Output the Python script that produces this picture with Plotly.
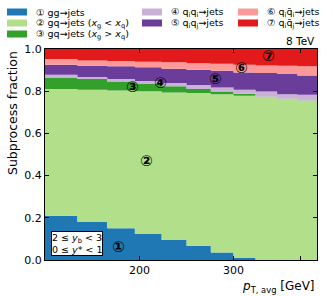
import numpy as np
import plotly.graph_objects as go

# ---------------- data ----------------
pt_edges = [133, 153, 174, 196, 220, 245, 272, 300, 330, 362, 395, 430]
frac_gg      = [0.210, 0.180, 0.150, 0.123, 0.095, 0.067, 0.035, 0.010, 0.000, 0.000, 0.000]
frac_gq_lt   = [0.600, 0.627, 0.653, 0.677, 0.699, 0.724, 0.751, 0.768, 0.772, 0.763, 0.755]
frac_gq_gt   = [0.052, 0.051, 0.043, 0.034, 0.029, 0.019, 0.013, 0.010, 0.002, 0.001, 0.001]
frac_qiqi    = [0.016, 0.009, 0.012, 0.014, 0.016, 0.019, 0.019, 0.019, 0.025, 0.022, 0.027]
frac_qiqj    = [0.047, 0.054, 0.060, 0.065, 0.067, 0.073, 0.079, 0.082, 0.087, 0.095, 0.092]
frac_qiqibar = [0.028, 0.025, 0.025, 0.027, 0.031, 0.031, 0.033, 0.036, 0.036, 0.040, 0.043]
frac_qiqjbar = [0.047, 0.054, 0.057, 0.060, 0.063, 0.067, 0.070, 0.075, 0.078, 0.079, 0.082]

series_values = [frac_gg, frac_gq_lt, frac_gq_gt, frac_qiqi, frac_qiqj, frac_qiqibar, frac_qiqjbar]
series_labels = [
    "① gg→jets",
    "② gq→jets (<i>x</i><sub>g</sub> &lt; <i>x</i><sub>q</sub>)",
    "③ gq→jets (<i>x</i><sub>g</sub> &gt; <i>x</i><sub>q</sub>)",
    "④ q<sub>i</sub>q<sub>i</sub>→jets",
    "⑤ q<sub>i</sub>q<sub>j</sub>→jets",
    "⑥ q<sub>i</sub>q̄<sub>i</sub>→jets",
    "⑦ q<sub>i</sub>q̄<sub>j</sub>→jets",
]
series_colors = ["#1f78b4", "#b2df8a", "#33a02c", "#cab2d6", "#6a3d9a", "#fb9a99", "#e31a1c"]
marker_labels = ["①", "②", "③", "④", "⑤", "⑥", "⑦"]
marker_pt = [183, 206, 194, 219, 277, 311, 349]
marker_frac = [0.062, 0.47, 0.821, 0.84, 0.859, 0.911, 0.968]
xtick_vals = [200, 300, 400]
xtick_text = ["200", "300", ""]
ytick_vals = [0.0, 0.2, 0.4, 0.6, 0.8, 1.0]

FONT = "DejaVu Sans"

fig = go.Figure()
x_steps = pt_edges[:-1] + [pt_edges[-1]]
for vals, lab, col in zip(series_values, series_labels, series_colors):
    fig.add_trace(go.Scatter(
        x=x_steps, y=list(vals) + [vals[-1]],
        mode="lines", line=dict(width=0, shape="hv", color=col),
        fillcolor=col, stackgroup="one", name=lab, showlegend=False,
        hoverinfo="skip",
    ))

# ---- manual legend (3 columns) ----
W, H = 332, 296
ml, mr, mt, mb = 45, 15, 49, 36
pw, ph = W - ml - mr, H - mt - mb

def px2paper(xp, yp):
    return (xp - ml) / pw, (H - mb - yp) / ph

legend_pos = [(7, 12), (7, 23), (7, 34), (142, 12), (142, 23), (238, 12), (238, 23)]
shapes = []
annotations = []
for (xp, yp), lab, col in zip(legend_pos, series_labels, series_colors):
    x0, y0 = px2paper(xp, yp + 3.5)
    x1, y1 = px2paper(xp + 20, yp - 3.5)
    shapes.append(dict(type="rect", xref="paper", yref="paper", x0=x0, x1=x1, y0=y0, y1=y1,
                       fillcolor=col, line=dict(width=0)))
    tx, ty = px2paper(xp + 27, yp)
    annotations.append(dict(text=lab, xref="paper", yref="paper", x=tx, y=ty,
                            xanchor="left", yanchor="middle", showarrow=False,
                            font=dict(family=FONT, size=9.5, color="black")))

# circled number markers
for lab, xv, yv in zip(marker_labels, marker_pt, marker_frac):
    annotations.append(dict(text="<b>" + lab + "</b>", x=np.log10(xv), y=yv, xref="x", yref="y",
                            showarrow=False, font=dict(family=FONT, size=15, color="black")))

# energy label
annotations.append(dict(text="8 TeV", xref="paper", yref="paper", x=1, y=1, xanchor="right",
                        yanchor="bottom", showarrow=False, yshift=0,
                        font=dict(family=FONT, size=10.5, color="black")))
# rapidity box
annotations.append(dict(text="2 ≤ <i>y</i><sub>b</sub> &lt; 3<br>0 ≤ <i>y</i>* &lt; 1",
                        xref="paper", yref="paper", x=0.022, y=0.02, xanchor="left", yanchor="bottom",
                        align="left", showarrow=False, bgcolor="white", bordercolor="black",
                        borderwidth=1, borderpad=0,
                        font=dict(family=FONT, size=9.5, color="black")))
# x title
annotations.append(dict(text="<i>p</i><sub>T, avg</sub> [GeV]", xref="paper", yref="paper",
                        x=1, y=-0.08, xanchor="right", yanchor="top", showarrow=False,
                        font=dict(family=FONT, size=12, color="black")))
# y title
annotations.append(dict(text="Subprocess fraction", xref="paper", yref="paper",
                        x=(12 - ml) / pw, y=1, xanchor="center", yanchor="top", textangle=-90,
                        showarrow=False, font=dict(family=FONT, size=12.5, color="black")))

fig.update_layout(
    width=W, height=H,
    margin=dict(l=ml, r=mr, t=mt, b=mb, pad=0),
    paper_bgcolor="white", plot_bgcolor="white",
    showlegend=False,
    shapes=shapes, annotations=annotations,
    font=dict(family=FONT, size=11, color="black"),
    xaxis=dict(type="log", range=[np.log10(pt_edges[0]), np.log10(pt_edges[-1])],
               tickvals=xtick_vals, ticktext=xtick_text, ticks="inside", ticklen=4,
               tickcolor="black", showline=True, linecolor="black", linewidth=1,
               mirror="ticks", showgrid=False, zeroline=False,
               tickfont=dict(family=FONT, size=11)),
    yaxis=dict(range=[0, 1], tickvals=ytick_vals, tickformat=".1f", ticks="inside", ticklen=4,
               tickcolor="black", showline=True, linecolor="black", linewidth=1,
               mirror="ticks", showgrid=False, zeroline=False,
               tickfont=dict(family=FONT, size=11)),
)

fig.write_html("out.html", config={"displayModeBar": False},
               post_script="document.body.style.margin='0';")
